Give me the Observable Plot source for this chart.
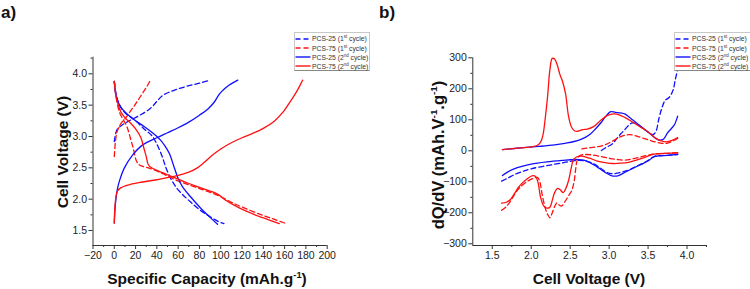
<!DOCTYPE html>
<html>
<head>
<meta charset="utf-8">
<script src="https://cdn.jsdelivr.net/npm/d3@7"></script>
<script src="https://cdn.jsdelivr.net/npm/@observablehq/plot@0.6"></script>
<style>
  html, body { margin: 0; padding: 0; background: #fff; }
  #fig { position: relative; width: 750px; height: 289px; overflow: hidden; background: #fff;
         font-family: "Liberation Sans", Arial, sans-serif; color: #222; }
  .panel { position: absolute; top: 0; }
  .plabel { position: absolute; font-weight: bold; font-size: 17px; line-height: 17px; color: #111; }
  .xt { position: absolute; font-weight: bold; font-size: 15.5px; line-height: 16px; white-space: nowrap; transform: translate(-50%, -50%); color: #111; }
  .yt { position: absolute; font-weight: bold; font-size: 15.5px; line-height: 16px; white-space: nowrap; transform: translate(-50%, -50%) rotate(-90deg); color: #111; }
  sup { font-size: 0.6em; line-height: 0; vertical-align: 0.7em; }
  .legend { position: absolute; background: #fff; border: 1px solid #c8c8c8; border-bottom-color: #888; height: 37px; }
  .lrow { position: absolute; left: 0; height: 9px; font-size: 6.8px; line-height: 9px; white-space: nowrap; color: #333; }
  .lrow svg { position: absolute; left: 0; top: 2.5px; }
  .lrow span { position: absolute; left: 17px; top: 0; }
  .lrow sup { font-size: 0.65em; vertical-align: 0.6em; }
</style>
</head>
<body>
<div id="fig">
  <div class="panel" id="pa" style="left:0px"></div>
  <div class="panel" id="pb" style="left:375px"></div>
  <div class="plabel" style="left:1px;top:4px">a)</div>
  <div class="plabel" style="left:379px;top:4px">b)</div>
  <div class="xt" style="left:207px;top:279px">Specific Capacity (mAh.g<sup>-1</sup>)</div>
  <div class="yt" style="left:63px;top:152px">Cell Voltage (V)</div>
  <div class="xt" style="left:589px;top:279px">Cell Voltage (V)</div>
  <div class="yt" style="left:438px;top:155px;font-size:16.5px">dQ/dV (mAh.V<sup>-1</sup>.g<sup>-1</sup>)</div>
  <div class="legend" id="legA" style="left:294px;top:32px;width:74px"></div>
  <div class="legend" id="legB" style="left:674px;top:32px;width:90px"></div>
</div>
<script>
// ---------------- Panel a) : voltage vs specific capacity ----------------
// [capacity mAh/g, voltage V]
const a_pcs25_1st_charge = [[0,2.92],[0.5,2.98],[1.5,3.06],[3,3.12],[8,3.19],[14,3.25],[24,3.34],[34,3.45],[40,3.56],[45,3.65],[52,3.71],[60,3.76],[70,3.81],[80,3.85],[90,3.90]];
const a_pcs25_1st_discharge = [[0,3.88],[2,3.65],[5,3.50],[10,3.38],[18,3.28],[28,3.12],[35,3.02],[40,2.88],[45,2.68],[49,2.48],[54,2.30],[59,2.17],[65,2.06],[72,1.95],[81,1.82],[90,1.72],[97,1.65],[103,1.61]];
const a_pcs75_1st_charge = [[0,2.68],[1,2.90],[2.5,3.07],[6,3.20],[10,3.28],[15,3.40],[20,3.52],[25,3.65],[30,3.78],[34,3.90]];
const a_pcs75_1st_discharge = [[0,3.88],[2,3.60],[5,3.38],[9,3.25],[12,3.15],[15,2.98],[18,2.80],[21,2.60],[24,2.54],[30,2.51],[40,2.45],[50,2.37],[60,2.29],[70,2.23],[80,2.17],[90,2.11],[100,2.04],[110,1.95],[122,1.86],[140,1.74],[150,1.68],[160,1.62]];
const a_pcs25_2nd_charge = [[0,1.62],[0.5,1.80],[1.5,2.00],[3,2.17],[5,2.30],[9.5,2.50],[17,2.70],[27,2.87],[40,2.98],[50,3.06],[60,3.14],[70,3.23],[80,3.34],[88,3.44],[94,3.55],[98,3.66],[101,3.72],[108,3.82],[116,3.90]];
const a_pcs25_2nd_discharge = [[0,3.88],[2,3.63],[6,3.47],[12,3.36],[20,3.25],[28,3.16],[35,3.07],[43,2.95],[48,2.84],[52,2.72],[56,2.52],[60,2.33],[64,2.20],[71,2.05],[81,1.86],[90,1.71],[97,1.60]];
const a_pcs75_2nd_charge = [[0,1.62],[0.5,1.85],[1.5,2.03],[3,2.13],[6,2.18],[14,2.23],[25,2.27],[40,2.31],[58,2.37],[70,2.43],[78,2.50],[84,2.58],[92,2.70],[100,2.80],[110,2.90],[120,2.98],[130,3.05],[140,3.13],[150,3.24],[158,3.38],[165,3.55],[170,3.68],[174,3.80],[177,3.90]];
const a_pcs75_2nd_discharge = [[0,3.88],[1.5,3.65],[3,3.55],[6,3.40],[10,3.30],[15,3.22],[20,3.12],[25,2.98],[28,2.80],[30,2.68],[32,2.55],[35,2.50],[40,2.46],[50,2.39],[60,2.32],[70,2.25],[80,2.19],[90,2.13],[97,2.08],[105,1.98],[112,1.91],[125,1.80],[140,1.70],[155,1.61]];

const capDomain = [-20, 200];
const voltDomainA = [1.261, 4.265];
const capTicks = [-20, 0, 20, 40, 60, 80, 100, 120, 140, 160, 180, 200];
const capMinor = [-10, 10, 30, 50, 70, 90, 110, 130, 150, 170, 190];
const voltTicksA = [1.5, 2.0, 2.5, 3.0, 3.5, 4.0];
const voltMinorA = [1.75, 2.25, 2.75, 3.25, 3.75, 4.25];

// ---------------- Panel b) : dQ/dV vs cell voltage ----------------
// [voltage V, dQ/dV]
const b_pcs25_1st_up = [[2.90,1],[2.97,12],[3.04,22],[3.10,40],[3.15,55],[3.19,65],[3.25,82],[3.30,90],[3.36,86],[3.43,73],[3.50,60],[3.56,52],[3.60,62],[3.64,105],[3.68,140],[3.72,163],[3.77,172],[3.82,195],[3.85,230],[3.88,262]];
const b_pcs25_1st_down = [[1.62,-98],[1.70,-88],[1.80,-75],[1.90,-66],[2.00,-58],[2.20,-48],[2.42,-38],[2.60,-31],[2.70,-33],[2.80,-42],[2.90,-58],[2.97,-70],[3.05,-74],[3.15,-70],[3.25,-62],[3.35,-50],[3.45,-38],[3.52,-28],[3.58,-18],[3.70,-15],[3.80,-14],[3.88,-12]];
const b_pcs75_1st_up = [[2.65,6],[2.75,10],[2.85,13],[2.95,20],[3.05,32],[3.15,46],[3.25,52],[3.32,50],[3.42,42],[3.52,34],[3.60,28],[3.68,24],[3.75,25],[3.82,32],[3.88,40]];
const b_pcs75_1st_down = [[1.62,-192],[1.68,-180],[1.74,-160],[1.80,-135],[1.88,-112],[1.96,-97],[2.04,-88],[2.08,-86],[2.11,-100],[2.14,-140],[2.18,-185],[2.21,-205],[2.24,-216],[2.27,-200],[2.30,-180],[2.33,-168],[2.36,-175],[2.39,-178],[2.43,-165],[2.48,-145],[2.52,-128],[2.55,-100],[2.57,-60],[2.59,-30],[2.62,-16],[2.70,-12],[2.80,-14],[2.90,-19],[3.00,-24],[3.10,-28],[3.20,-30],[3.30,-26],[3.40,-20],[3.50,-14],[3.60,-10],[3.75,-8],[3.88,-6]];
const b_pcs25_2nd_up = [[1.63,4],[1.90,10],[2.10,14],[2.30,19],[2.45,25],[2.55,30],[2.63,36],[2.70,44],[2.76,54],[2.83,72],[2.90,92],[2.96,112],[3.02,126],[3.08,124],[3.15,122],[3.20,119],[3.25,110],[3.30,100],[3.36,88],[3.43,74],[3.49,62],[3.55,50],[3.60,40],[3.65,34],[3.70,38],[3.75,58],[3.80,72],[3.84,85],[3.88,112]];
const b_pcs25_2nd_down = [[1.63,-80],[1.70,-68],[1.78,-58],[1.88,-50],[2.00,-43],[2.20,-36],[2.40,-31],[2.55,-28],[2.65,-29],[2.72,-34],[2.80,-45],[2.88,-58],[2.95,-70],[3.02,-79],[3.07,-82],[3.12,-80],[3.20,-70],[3.30,-57],[3.40,-45],[3.50,-33],[3.57,-20],[3.65,-16],[3.75,-15],[3.88,-11]];
const b_pcs75_2nd_up = [[1.63,4],[1.80,8],[2.00,13],[2.08,18],[2.12,28],[2.15,50],[2.18,105],[2.21,175],[2.24,262],[2.27,298],[2.30,296],[2.33,280],[2.37,245],[2.40,225],[2.44,185],[2.48,110],[2.52,75],[2.56,64],[2.60,63],[2.66,68],[2.72,70],[2.80,78],[2.90,100],[2.98,114],[3.06,119],[3.12,117],[3.20,108],[3.30,93],[3.38,80],[3.46,68],[3.53,55],[3.60,40],[3.66,33],[3.74,29],[3.80,33],[3.88,43]];
const b_pcs75_2nd_down = [[1.62,-169],[1.68,-166],[1.73,-158],[1.78,-140],[1.83,-120],[1.88,-105],[1.95,-90],[2.02,-80],[2.06,-84],[2.09,-105],[2.12,-150],[2.16,-178],[2.20,-185],[2.24,-182],[2.27,-160],[2.30,-135],[2.34,-121],[2.37,-125],[2.41,-135],[2.45,-118],[2.48,-95],[2.51,-60],[2.54,-30],[2.58,-20],[2.65,-17],[2.75,-24],[2.85,-33],[2.95,-38],[3.05,-41],[3.15,-40],[3.25,-37],[3.35,-30],[3.45,-22],[3.52,-15],[3.60,-10],[3.75,-8],[3.88,-7]];

const voltDomainB = [1.25, 4.25];
const dqdvDomain = [-305.5, 300];
const voltTicksB = [1.5, 2.0, 2.5, 3.0, 3.5, 4.0];
const voltMinorB = [1.75, 2.25, 2.75, 3.25, 3.75, 4.25];
const dqdvTicks = [-300, -200, -100, 0, 100, 200, 300];
const dqdvMinor = [-250, -150, -50, 50, 150, 250];

// series names (legend order)
const seriesNames = ["PCS-25 (1st cycle)", "PCS-75 (1st cycle)", "PCS-25 (2nd cycle)", "PCS-75 (2nd cycle)"];

// ---------------- styles ----------------
const BLUE = "#1010ff", RED = "#ff1010";
const styleOf = {
  "PCS-25 (1st cycle)": {stroke: BLUE, dash: "5,3"},
  "PCS-75 (1st cycle)": {stroke: RED, dash: "5,3"},
  "PCS-25 (2nd cycle)": {stroke: BLUE, dash: null},
  "PCS-75 (2nd cycle)": {stroke: RED, dash: null}
};

const panelA = [
  [seriesNames[0], [a_pcs25_1st_charge, a_pcs25_1st_discharge]],
  [seriesNames[1], [a_pcs75_1st_charge, a_pcs75_1st_discharge]],
  [seriesNames[2], [a_pcs25_2nd_charge, a_pcs25_2nd_discharge]],
  [seriesNames[3], [a_pcs75_2nd_charge, a_pcs75_2nd_discharge]]
];
const panelB = [
  [seriesNames[0], [b_pcs25_1st_up, b_pcs25_1st_down]],
  [seriesNames[1], [b_pcs75_1st_up, b_pcs75_1st_down]],
  [seriesNames[2], [b_pcs25_2nd_up, b_pcs25_2nd_down]],
  [seriesNames[3], [b_pcs75_2nd_up, b_pcs75_2nd_down]]
];

function lineMarks(panel) {
  const marks = [];
  for (const [name, branches] of panel) {
    const s = styleOf[name];
    for (const b of branches) {
      marks.push(Plot.line(b, {
        x: d => d[0], y: d => d[1], stroke: s.stroke, strokeWidth: 1.3,
        strokeDasharray: s.dash || undefined, curve: "catmull-rom"
      }));
    }
  }
  return marks;
}

const common = {
  width: 375, height: 289,
  style: {fontFamily: "'Liberation Sans', Arial, sans-serif", fontSize: "10.5px", color: "#222", background: "transparent", overflow: "visible"}
};
const fmtInt = d3.format("d");
const fmt1 = d3.format(".1f");
const AX = "#333";

const plotA = Plot.plot({
  ...common,
  marginLeft: 92.5, marginRight: 48.3, marginTop: 56.7, marginBottom: 44,
  x: {domain: capDomain, label: null},
  y: {domain: voltDomainA, label: null},
  marks: [
    ...lineMarks(panelA),
    Plot.ruleX([capDomain[0]], {stroke: AX}),
    Plot.ruleY([voltDomainA[0]], {stroke: AX}),
    Plot.axisX({ticks: capTicks, tickSize: 4, tickPadding: 2, tickFormat: fmtInt, stroke: AX, label: null}),
    Plot.axisX({ticks: capMinor, tickSize: 2, tickFormat: () => "", stroke: AX, label: null}),
    Plot.axisY({ticks: voltTicksA, tickSize: 4, tickPadding: 2, tickFormat: fmt1, stroke: AX, label: null}),
    Plot.axisY({ticks: voltMinorA, tickSize: 2, tickFormat: () => "", stroke: AX, label: null})
  ]
});
document.getElementById("pa").appendChild(plotA);

const plotB = Plot.plot({
  ...common,
  marginLeft: 97.3, marginRight: 44, marginTop: 57.3, marginBottom: 44,
  x: {domain: voltDomainB, label: null},
  y: {domain: dqdvDomain, label: null},
  marks: [
    ...lineMarks(panelB),
    Plot.ruleX([voltDomainB[0]], {stroke: AX}),
    Plot.ruleY([dqdvDomain[0]], {stroke: AX}),
    Plot.axisX({ticks: voltTicksB, tickSize: 4, tickPadding: 2, tickFormat: fmt1, stroke: AX, label: null}),
    Plot.axisX({ticks: voltMinorB, tickSize: 2, tickFormat: () => "", stroke: AX, label: null}),
    Plot.axisY({ticks: dqdvTicks, tickSize: 4, tickPadding: 2, tickFormat: fmtInt, stroke: AX, label: null}),
    Plot.axisY({ticks: dqdvMinor, tickSize: 2, tickFormat: () => "", stroke: AX, label: null})
  ]
});
document.getElementById("pb").appendChild(plotB);

// ---------------- legends ----------------
function buildLegend(id) {
  const el = document.getElementById(id);
  const tops = [1.2, 10.6, 19.9, 28.9];
  seriesNames.forEach((name, i) => {
    const s = styleOf[name];
    const m = name.match(/^(.*\()(\d)(st|nd)( cycle\))$/);
    const row = document.createElement("div");
    row.className = "lrow";
    row.style.top = tops[i] + "px";
    row.innerHTML =
      `<svg width="16" height="4"><line x1="0.5" x2="15.5" y1="2" y2="2" stroke="${s.stroke}" stroke-width="1.4" ${s.dash ? `stroke-dasharray="${s.dash}"` : ""}/></svg>` +
      `<span>${m[1]}${m[2]}<sup>${m[3]}</sup>${m[4]}</span>`;
    el.appendChild(row);
  });
}
buildLegend("legA");
buildLegend("legB");
</script>
</body>
</html>
